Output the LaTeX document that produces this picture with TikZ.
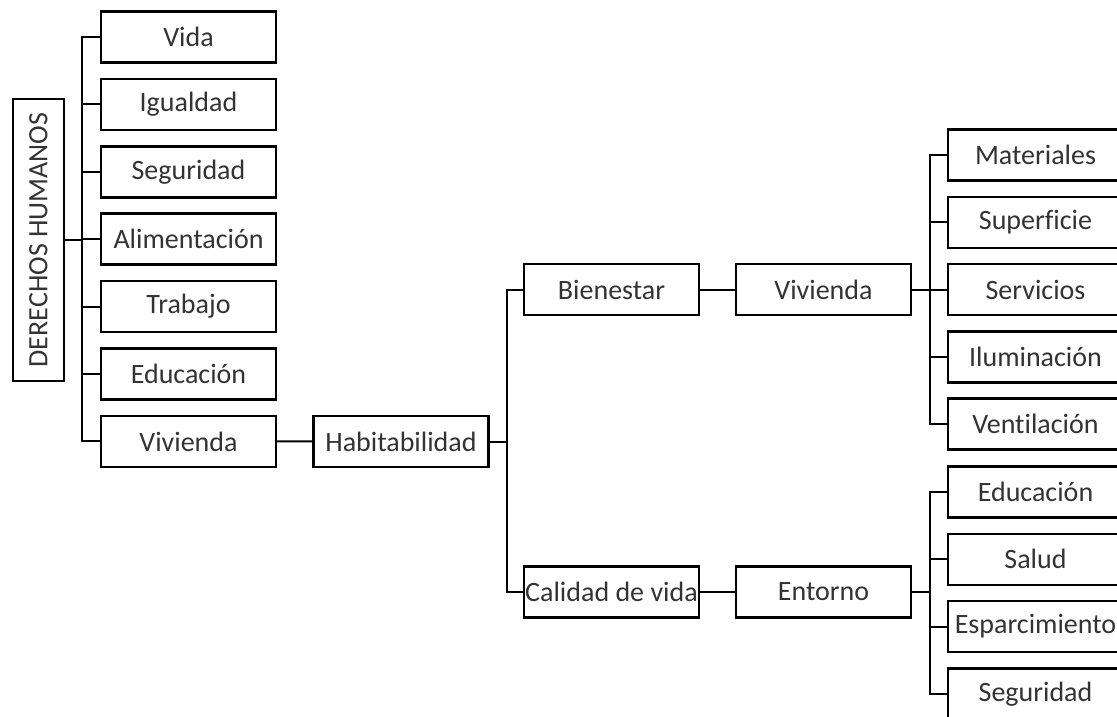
\documentclass[tikz,border=0pt]{standalone}
\usepackage{fontspec}
\setmainfont{Carlito}[Ligatures={NoCommon}]
\usepackage{tikz}
\usetikzlibrary{positioning}

\begin{document}
\begin{tikzpicture}[x=1pt, y=-1pt,
    box/.style={draw, line width=2.5pt, minimum width=175pt, minimum height=51pt, inner sep=0pt,
      text=black!80, font=\fontsize{28}{32}\selectfont},
    conn/.style={line width=2pt, line cap=rect}]
          \useasboundingbox (0,0) rectangle (1117,717);
          \node[box, rotate=90, minimum width=282pt] (dh) at (38.5,240) {DERECHOS HUMANOS};
          \foreach \t [count=\i] in {Vida, Igualdad, Seguridad, Alimentación, Trabajo, Educación, Vivienda}
            \node[box] (l\i) at (188.5, 37+67.4*\i-67.4) {\t};
          \node[box] (hab) at (401,441.5) {Habitabilidad};
          \node[box] (bien) at (611.5,289.5) {Bienestar};
          \node[box] (cal) at (611.5,592) {Calidad de vida};
          \node[box] (viv) at (823.5,289.5) {Vivienda};
          \node[box] (ent) at (823.5,592) {Entorno};
          \foreach \t [count=\i] in {Materiales, Superficie, Servicios, Iluminación, Ventilación}
            \node[box] (r\i) at (1035.5, 155+67.3*\i-67.3) {\t};
          \foreach \t [count=\i] in {Educación, Salud, Esparcimiento, Seguridad}
            \node[box] (s\i) at (1035.5, 492+67.3*\i-67.3) {\t};
          \coordinate (busL) at (82,0);
          \coordinate (busM) at (507,0);
          \coordinate (busR) at (930,0);
          \draw[conn] (dh.south) -- (dh.south -| busL);
          \draw[conn] (l1.west -| busL) -- (l7.west -| busL);
          \foreach \i in {1,...,7}
            \draw[conn] (l\i.west) -- (l\i.west -| busL);
          \draw[conn] (l7) -- (hab);
          \draw[conn] (hab) -- (hab -| busM);
          \draw[conn] (bien.west -| busM) -- (cal.west -| busM);
          \draw[conn] (bien.west) -- (bien.west -| busM);
          \draw[conn] (cal.west) -- (cal.west -| busM);
          \draw[conn] (bien) -- (viv);
          \draw[conn] (cal) -- (ent);
          \draw[conn] (viv) -- (viv -| busR);
          \draw[conn] (r1.west -| busR) -- (r5.west -| busR);
          \foreach \i in {1,...,5}
            \draw[conn] (r\i.west) -- (r\i.west -| busR);
          \draw[conn] (ent) -- (ent -| busR);
          \draw[conn] (s1.west -| busR) -- (s4.west -| busR);
          \foreach \i in {1,...,4}
            \draw[conn] (s\i.west) -- (s\i.west -| busR);
        \end{tikzpicture}
\end{document}
